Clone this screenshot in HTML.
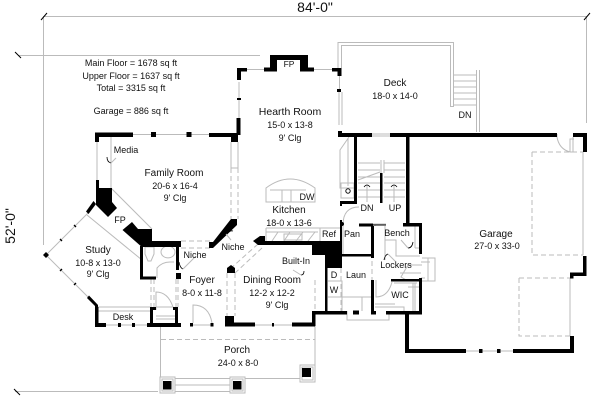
<!DOCTYPE html>
<html><head><meta charset="utf-8"><style>
html,body{margin:0;padding:0;background:#fff}
svg{display:block}
text{font-family:"Liberation Sans",sans-serif;font-size:9px;fill:#111;text-anchor:middle}
.g{stroke:#bbb;stroke-width:1;fill:none}
.d{stroke:#bbb;stroke-width:1;fill:none;stroke-dasharray:5 3}
.w{fill:#000;stroke:none}
.k{stroke:#000;fill:none}
</style></head><body>
<svg width="600" height="401" viewBox="0 0 600 401" xmlns="http://www.w3.org/2000/svg">
<!-- dimensions -->
<path class="g" d="M44 16.5H587M43.5 16V245M18 55.5H260M586.5 16V123M15 391.500H158"/>
<path class="k" stroke-width="1" d="M41 20L47 13M584 20L590 13M15 52L21 58M14 389L20 395"/>
<text x="315" y="12" style="font-size:14px">84'-0"</text>
<text x="15" y="226" transform="rotate(-90 15 226)" style="font-size:14px">52'-0"</text>
<!-- gray detail -->
<path class="g" d="M338 68V42.5H453.5V107M341.5 68V45.5H450.5V106.5H453.5M454 75H476M454 81H476M454 87H476M454 93H476M454 99H476M454 105H476M476.5 70V132M479.5 70V132"/>
<path class="g" d="M133 134.5H210M246 69.5H264M314 69.5H332M339.5 75V90M339 92V125M342 92V125M372 134H390M372 136H390M97 142V180M239 82V118"/>
<path class="g" d="M111 137V188L152 229M87 215L142 260M88 213L46 255L88 297M98 307H150M97 311H150M133 325H95M106 325H147M234 325H255M191 325H212M255 325H292M466 351H513M557 134V137"/>
<path class="g" d="M231 142V168M238 142V168M231 168H238"/>
<path class="d" d="M231 168V219M238 168V219M181 241H210M181 248H210M258 244L230 269M262 248L235 273M227 273V316M235 273V316M151 279V307M154 279V307M176 279V307M178 279V307"/>
<path class="g" d="M160.500 327V377M315 326V365M175 378.500H230M175 385H230M175 391.500H230M245 378.500H300"/>
<path class="d" d="M161 339.5H315"/>
<path class="g" d="M160 377H175V393H160ZM162 379H173V391H162ZM230 377H245V393H230ZM232 379H243V391H232ZM300 365H315V382H300ZM302 367H313V380H302Z"/>
<!-- bath fixtures -->
<path class="g" d="M145 247H154V254L151 261H148L145 254ZM161 252A6 5 0 1 0 175 252A6 5 0 1 0 161 252ZM157 278V268Q162 262 170 262L174 262"/>
<path class="g" d="M156 310V292Q168 292 173 307H156M156 316H175M156 319H175"/>
<path class="g" d="M193 323V305Q209 305 212 323"/>
<!-- garage -->
<path class="d" d="M532 152H583M532 152V255H583M519 278V336H570M519 278H570"/>
<path class="g" d="M583 152V255M570 278V336M557 137Q559 149 570 152H573V137M574 139H570V152"/>
<!-- stairs -->
<path class="g" d="M349 137L340 150V188H354M348 138V186M341 183H354V198H341ZM358 163H380M358 170H380M358 177H380M358 183H380M358 190H380M358 197H380M384 163H405M384 170H405M384 177H405M384 183H405M384 190H405M384 197H405M381 160V173M384 160V173M358 180L380 172M367 185V202M394 185V202"/>
<path class="k" stroke-width=".8" d="M364 187Q367 183 370 187M391 187Q394 183 397 187"/>
<circle cx="348" cy="191" r="2.2" fill="none" stroke="#111"/>
<!-- kitchen -->
<path class="g" d="M266 188Q290 170 315 188V202H266ZM270 190H306M282 190V202M291 190V202M266 228H340M266 241V228M266 232H318M320 228V241M278 232L272 241M290 232L284 241M303 232L296 241M315 232L308 241M284 234H302V240H284Z"/>
<path class="g" d="M343 225Q343 207 359 207M343 226V256M372 226V254M362 224H386M375 224V226"/>
<!-- lockers / laundry -->
<path class="g" d="M385 226V260M385 240H396V256H420M415 226V248M415 248H420M408 287H420M400 273H421M422 258H435V281H422M428 258V281M421 262H430M421 278H425M422 281H408L401 277L408 265H422"/>
<path class="g" d="M376 280V297Q388 297 392 282M394 281H419M394 283H417M375 307H404V312M375 304H395M415 283V312M413 283V312"/>
<path class="g" d="M328 267H340M328 281H342V311M328 297H372M342 297V311M362 297V311M373 297V311M347 311V320H389V311"/>
<path class="d" d="M341 268V312M372 245V280"/>
<path class="d" d="M315 280V310M333 262V268"/>
<path class="g" d="M325 256H342"/>
<!-- walls -->
<g class="w">
<rect x="95" y="132.500" width="38" height="4.500"/><rect x="95" y="133" width="4" height="9"/><rect x="151" y="132" width="5" height="5"/><rect x="186.500" y="132" width="5" height="5"/><rect x="209" y="133" width="29" height="4"/><rect x="231" y="133" width="7" height="9"/><rect x="236.500" y="118" width="4" height="17"/>
<rect x="237" y="68" width="10" height="3.500"/><rect x="237" y="68" width="4" height="12"/><rect x="237" y="98" width="4" height="2"/>
<rect x="264" y="67.500" width="13" height="4"/><rect x="270" y="55" width="7" height="16"/><rect x="270" y="55" width="38" height="5"/><rect x="300" y="55" width="8" height="16"/><rect x="300" y="67.500" width="14" height="4"/><rect x="332" y="68" width="9" height="3.500"/><rect x="337.500" y="68" width="4" height="8"/><rect x="337" y="89" width="4" height="3"/>
<rect x="338" y="131" width="4" height="6"/><rect x="338" y="133" width="34" height="4"/><rect x="390" y="133" width="167" height="4"/><rect x="573" y="133" width="14" height="4"/><rect x="583" y="133" width="4" height="19"/>
<rect x="354" y="137" width="3" height="67"/><rect x="406" y="137" width="3.500" height="88"/><rect x="380" y="173" width="2.500" height="30"/>
<rect x="583" y="256" width="3.500" height="19"/><rect x="570" y="272.500" width="16.500" height="3.500"/><rect x="570" y="272.500" width="3.500" height="6"/><rect x="570" y="336" width="4" height="17"/><rect x="513" y="349" width="61" height="4"/><rect x="405" y="349" width="61" height="4"/><rect x="405" y="312" width="4" height="41"/><rect x="479" y="349" width="3.500" height="4"/><rect x="497" y="349" width="3.500" height="4"/>
<rect x="403" y="223" width="19" height="3.500"/><rect x="419" y="223" width="3" height="31"/><rect x="419" y="278" width="3" height="35"/><rect x="391" y="279" width="30" height="2.500"/>
<rect x="386" y="311" width="36" height="3.500"/><rect x="371" y="311" width="5" height="3.500"/><rect x="353" y="310.500" width="6" height="4"/><rect x="312" y="311" width="35" height="3.500"/><rect x="312" y="311" width="3.500" height="15"/><rect x="292" y="322.500" width="23" height="4"/><rect x="272" y="323" width="2" height="3.500"/><rect x="225" y="322.500" width="30" height="4"/><rect x="225" y="316" width="9" height="9"/>
<rect x="210.500" y="323" width="3" height="3.500"/><rect x="190" y="323" width="3" height="3.500"/><rect x="147" y="323" width="34" height="4"/><rect x="150" y="307" width="3" height="18"/><rect x="175" y="307" width="3" height="18"/><rect x="150" y="307" width="6" height="3"/><rect x="173" y="307" width="5" height="3"/>
<rect x="95" y="323" width="11" height="4"/><rect x="118" y="323" width="3" height="4"/><rect x="132" y="323" width="3" height="4"/><rect x="95" y="307" width="3.500" height="20"/>
<rect x="340" y="201" width="17" height="3"/><rect x="340" y="201" width="2" height="5"/><circle cx="342" cy="224" r="2"/><rect x="340" y="220" width="2" height="25"/><rect x="359" y="223.500" width="14" height="3"/><rect x="373" y="224.500" width="13" height="1"/>
<rect x="262" y="241" width="80" height="4"/><polygon points="253,241 260,236 265,236 265,245 258,245"/><rect x="312" y="243" width="30" height="12"/><rect x="325" y="254" width="17" height="14"/><rect x="342" y="254" width="31" height="2.500"/><rect x="371" y="226" width="3" height="30"/><rect x="371" y="254" width="3" height="4"/><rect x="325" y="267" width="2.500" height="46"/><rect x="371" y="280" width="3" height="33"/>
<polygon points="96,180 99,180 99,188 112,188 112,202 117,208 108,217 96,205"/><polygon points="93.500,201 96,204 88.500,214 86,211.500"/><polygon points="87,298 89,295.500 98,305 98,310 95,310 95,306"/>
<polygon points="132,222 138,229 152,229 152,241 181,241 181,247 143,247 143,248 122.500,230"/><rect x="140" y="246" width="3" height="33"/><rect x="140" y="276.500" width="16" height="3"/><rect x="176" y="245" width="3" height="25"/><rect x="176" y="273" width="5" height="6"/>
<polygon points="231,219 237,219 237,225 213,248 209,248 209,242 213,242"/>
<polygon points="231,265 235,268 235,273 227,273 227,268"/>
<polygon points="46,252 49,255 46,258 43,255"/>
<rect x="163" y="381" width="8.500" height="8.500"/><rect x="233" y="381" width="8.500" height="8.500"/><rect x="302" y="368" width="9" height="9"/>
</g>
<path class="k" stroke-width="1.300" d="M60 239L62 241M60 271L62 269M74 225L76 227M74 285L76 283"/>
<path class="k" stroke-width=".8" d="M107 157Q107 162 111 163M179 262Q180 268 183 269M226 234Q230 230 233 231M384 260Q385 255 388 254M413 242Q412 248 408 248M304 271Q304 275 301 275"/>
<path class="g" d="M111 163L116 158M183 269L196 256M226 234L231 240M388 254L396 262M408 248L401 240M301 275L293 270"/>
<!-- labels -->
<text x="131" y="66">Main Floor = 1678 sq ft</text>
<text x="131" y="79">Upper Floor = 1637 sq ft</text>
<text x="131" y="91">Total = 3315 sq ft</text>
<text x="131" y="114">Garage = 886 sq ft</text>
<text x="289" y="67" style="font-size:8.500px">FP</text>
<text x="126" y="153">Media</text>
<text x="174" y="176" style="font-size:10px">Family Room</text>
<text x="175" y="189">20-6 x 16-4</text>
<text x="175" y="201">9' Clg</text>
<text x="290" y="115" style="font-size:10.500px">Hearth Room</text>
<text x="290" y="128">15-0 x 13-8</text>
<text x="290" y="141">9' Clg</text>
<text x="395" y="86" style="font-size:10px">Deck</text>
<text x="395" y="99">18-0 x 14-0</text>
<text x="465" y="118">DN</text>
<text x="307" y="200">DW</text>
<text x="289" y="213" style="font-size:10px">Kitchen</text>
<text x="289" y="226">18-0 x 13-6</text>
<text x="367" y="211">DN</text>
<text x="395" y="211">UP</text>
<text x="329" y="237">Ref</text>
<text x="352" y="237">Pan</text>
<text x="397" y="236">Bench</text>
<text x="496" y="237" style="font-size:10px">Garage</text>
<text x="497" y="249">27-0 x 33-0</text>
<text x="396" y="268">Lockers</text>
<text x="356" y="278">Laun</text>
<text x="334" y="278">D</text>
<text x="334" y="293">W</text>
<text x="400" y="298">WIC</text>
<text x="296" y="264">Built-In</text>
<text x="120" y="223">FP</text>
<text x="98" y="253" style="font-size:10px">Study</text>
<text x="98" y="266">10-8 x 13-0</text>
<text x="98" y="277">9' Clg</text>
<text x="195" y="258">Niche</text>
<text x="233" y="250">Niche</text>
<text x="202" y="283" style="font-size:10px">Foyer</text>
<text x="202" y="296">8-0 x 11-8</text>
<text x="272" y="283" style="font-size:10px">Dining Room</text>
<text x="272" y="296">12-2 x 12-2</text>
<text x="277" y="308">9' Clg</text>
<text x="123" y="320">Desk</text>
<text x="237" y="353" style="font-size:10px">Porch</text>
<text x="238" y="366">24-0 x 8-0</text>
</svg>
</body></html>
